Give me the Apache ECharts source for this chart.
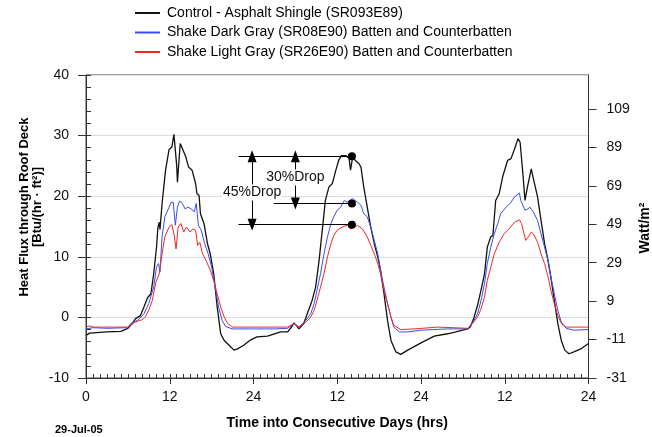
<!DOCTYPE html>
<html>
<head>
<meta charset="utf-8">
<script src="https://cdn.jsdelivr.net/npm/echarts@6/dist/echarts.min.js"></script>
<style>
html,body{margin:0;padding:0;background:#fff;}
#chart{width:652px;height:437px;}
</style>
</head>
<body>
<div id="chart"></div>
<script>
// ---- Data (hours into consecutive days, heat flux Btu/(hr·ft²)) ----
const seriesNames = [
  'Control - Asphalt Shingle (SR093E89)',
  'Shake Dark Gray (SR08E90) Batten and Counterbatten',
  'Shake Light Gray (SR26E90) Batten and Counterbatten'
];
const xTickLabels = ['0','12','24','12','24','12','24'];

const controlHours = [0,0.5,1.5,3,5,6,6.5,7.1,7.8,8.3,8.8,9.3,9.7,10.1,10.3,10.5,10.6,10.9,11.4,11.9,12.3,12.6,12.8,13.0,13.1,13.3,13.5,13.7,14.3,14.7,15.2,15.7,15.9,16.2,16.4,16.9,17.4,17.8,18.3,18.8,19.3,19.8,20.5,21.2,21.7,22.6,23.6,24.5,26,27.9,
  28.9,29.5,29.8,30.2,30.5,31.2,31.7,32.4,32.9,33.4,33.9,34.3,34.8,35.3,35.8,36.2,36.6,37.2,37.7,37.9,38.2,38.6,39.1,39.4,39.8,40.3,40.8,41.3,41.8,42.2,42.7,43.2,43.7,44.4,45.1,46.1,48,49.9,51.8,53,54.7,
  55.1,55.6,56.1,56.6,57.1,57.5,58,58.3,58.7,59.2,59.7,60.4,60.9,61.4,61.9,62.2,62.6,62.9,63.3,63.5,63.8,64.1,64.7,65.2,65.7,66.2,66.6,67.1,67.6,68.1,68.6,69.2,69.9,70.9,72];
const controlFlux = [-3.0,-2.6,-2.5,-2.4,-2.3,-1.8,-1.2,-0.2,0.3,1.7,3.2,3.9,7.2,11.5,14.8,15.7,14.5,18.8,24.3,27.7,28.1,30.2,30.0,25.0,22.3,22.6,28.7,28.8,26.5,24.8,24.3,22.1,20.4,20.1,17.1,15.5,12.2,10.5,7.2,1.7,-2.7,-3.8,-4.6,-5.4,-5.2,-4.6,-3.7,-3.2,-3.1,-2.4,
  -2.4,-1.5,-0.9,-1.4,-1.9,-1.0,0.6,2.8,5.0,9.4,14.9,19.3,21.5,22.1,24.3,25.9,26.7,26.7,26.2,24.3,26.4,25.9,25.4,24.8,21.5,18.2,14.9,12.2,10.0,7.8,3.9,-0.5,-3.8,-5.7,-6.1,-5.4,-4.2,-3.1,-2.7,-2.4,-1.9,
  -1.5,0.0,2.0,4.5,7.2,11.6,13.3,13.5,19.3,20.4,23.2,25.9,26.2,27.8,29.5,28.9,23.7,19.3,21.8,21.5,24.5,22.9,19.9,16.0,12.2,9.4,6.7,2.8,-1.0,-3.8,-5.4,-6.0,-5.7,-5.2,-4.3];

const darkHours = [0,1,3,6,6.4,7.5,8.3,9.0,9.7,10.1,10.4,10.6,10.9,11.3,11.9,12.2,12.5,12.8,13.1,13.4,13.8,14.2,14.6,15.1,15.5,15.8,16.1,16.5,17.0,17.5,18.0,18.5,19.0,19.5,20.0,21,24,27,
  28.9,29.8,30.5,31.5,32.2,32.7,33.1,33.6,34.1,34.6,35.1,35.5,36.0,36.5,37.0,37.4,38.2,38.9,39.4,39.8,40.3,40.8,41.3,41.8,42.2,42.7,43.2,43.7,44.1,44.9,46.1,48,51.8,54.7,
  55.1,55.6,56.1,56.6,57.1,57.5,58.0,58.5,59.0,59.4,60.2,60.9,61.4,62.1,62.3,62.9,63.3,63.6,64.1,64.7,65.2,65.7,66.2,66.6,67.1,67.6,68.1,68.8,69.9,72];
const darkFlux = [-1.9,-1.7,-1.8,-1.7,-1.0,-0.4,0.6,2.3,5.0,8.3,8.9,7.5,13.3,16.6,18.2,19.0,19.0,15.2,18.2,19.2,18.8,17.9,18.2,17.9,17.4,18.8,15.2,14.4,12.2,10.5,8.3,5.0,1.7,-0.5,-1.5,-1.9,-1.9,-1.9,
  -1.8,-1.0,-1.6,-0.5,0.6,2.3,4.5,7.2,10.5,13.3,15.5,16.6,17.7,18.2,19.3,19.0,19.6,19.0,18.5,17.1,16.6,14.9,12.7,10.5,7.8,5.0,2.3,0.05,-1.6,-2.4,-2.4,-2.1,-1.9,-1.9,
  -1.3,-0.5,0.6,2.8,5.6,8.9,11.6,13.8,15.5,17.1,18.2,19.0,19.9,20.5,19.3,17.7,17.9,18.2,17.4,16.0,13.8,11.6,9.4,6.7,3.9,1.2,-0.8,-1.8,-2.1,-2.0];

const lightHours = [0,0.5,1,6,7,8,8.5,9,9.5,10.0,10.5,10.9,11.3,11.9,12.3,12.6,12.9,13.2,13.6,14.0,14.4,14.9,15.3,15.7,16.0,16.3,16.7,17.2,17.8,18.3,18.8,19.3,19.8,20.3,21,24,27,
  28.9,29.8,30.5,31.5,32.2,32.7,33.1,33.6,34.1,34.6,35.1,35.5,36.0,36.7,37.4,37.9,38.9,39.6,40.3,40.8,41.3,41.8,42.2,42.7,43.2,43.7,44.1,45.1,47,50.4,54.7,
  55.4,56.1,56.6,57.1,57.5,58.0,58.5,59.2,59.9,60.6,61.4,62.1,62.4,63.0,63.4,63.8,64.1,64.7,65.2,65.7,66.2,66.6,67.1,67.6,68.1,68.8,72];
const lightFlux = [-1.6,-1.4,-1.6,-1.6,-0.8,-0.4,0.05,1.2,2.8,5.8,7.2,10.5,13.3,14.9,15.3,13.8,11.3,14.9,15.5,14.1,14.9,14.1,14.6,14.4,11.9,12.4,10.5,9.4,7.8,6.1,3.9,1.7,0.05,-1.0,-1.6,-1.6,-1.6,
  -1.6,-1.0,-1.6,-0.8,0.05,1.2,2.8,5.0,7.2,10.0,12.2,13.5,14.4,14.9,15.2,14.6,15.2,14.6,13.3,11.9,10.5,8.9,7.2,4.5,2.3,0.05,-1.3,-2.0,-1.9,-1.6,-1.8,
  -1.0,0.05,1.4,3.4,6.1,8.3,10.5,12.4,13.8,14.6,15.7,16.1,15.5,12.7,13.3,14.1,13.8,12.4,10.5,8.9,6.7,4.5,2.3,0.3,-1.0,-1.6,-1.6];

// Annotation values (peak levels on day 2)
const dropPeakHour = 38.1;
const dropLevels = [26.6, 18.8, 15.3];
const dropLabels = ['45%Drop', '30%Drop'];

// ---- Chart ----
const FONT = "'Liberation Sans', Arial, Helvetica, sans-serif";
const zip = (xs, ys) => xs.map((x, i) => [x, ys[i]]);
const BTU_TO_W = 3.1546;

const chart = echarts.init(document.getElementById('chart'), null, {renderer: 'canvas'});

const colors = ['#111111', '#3a4cf0', '#f02828'];

const annotLines = {
  silent: true,
  symbol: ['none', 'none'],
  lineStyle: {color: '#000', width: 1, type: 'solid'},
  label: {show: false},
  data: [
    [{coord: [21.85, dropLevels[0]]}, {coord: [dropPeakHour, dropLevels[0]]}],
    [{coord: [26.9, dropLevels[1]]}, {coord: [dropPeakHour, dropLevels[1]]}],
    [{coord: [21.85, dropLevels[2]]}, {coord: [dropPeakHour, dropLevels[2]]}],
    [{coord: [23.8, dropLevels[0]], symbol: 'triangle'}, {coord: [23.8, dropLevels[2]], symbol: 'triangle'}],
    [{coord: [30.0, dropLevels[0]], symbol: 'triangle'}, {coord: [30.0, dropLevels[1]], symbol: 'triangle'}]
  ],
  symbolSize: [9, 12]
};

const option = {
  animation: false,
  backgroundColor: '#fff',
  textStyle: {fontFamily: FONT},
  color: colors,
  grid: {left: 86, right: 63.5, top: 75, bottom: 59, show: true, borderColor: '#444', borderWidth: 1},
  legend: {
    orient: 'vertical', left: 134, top: 6, padding: 0, itemWidth: 25, itemHeight: 14, itemGap: 5.5,
    data: seriesNames,
    itemStyle: {opacity: 0},
    textStyle: {fontSize: 14, color: '#000', fontFamily: FONT, padding: [0, 0, 0, 2]},
    selectedMode: false
  },
  xAxis: [
    {
      type: 'value', min: 0, max: 72, interval: 12, position: 'bottom',
      axisLine: {show: true, onZero: false, lineStyle: {color: '#333', width: 1}},
      axisTick: {show: true, inside: false, length: 6, lineStyle: {color: '#333'}},
      axisLabel: {fontSize: 14, color: '#111', margin: 12, fontFamily: FONT,
        formatter: v => xTickLabels[Math.round(v / 12)]},
      splitLine: {show: false},
      name: 'Time into Consecutive Days (hrs)', nameLocation: 'middle', nameGap: 38,
      nameTextStyle: {fontSize: 14, fontWeight: 'bold', color: '#000', fontFamily: FONT}
    },
    {
      type: 'value', min: 0, max: 72, interval: 1, position: 'bottom',
      axisLine: {show: false, onZero: false},
      axisTick: {show: true, inside: true, length: 4, lineStyle: {color: '#333'}},
      axisLabel: {show: false}, splitLine: {show: false}
    }
  ],
  yAxis: [
    {
      type: 'value', min: -10, max: 40, interval: 10, position: 'left',
      axisLine: {show: true, onZero: false, lineStyle: {color: '#333', width: 1}},
      axisTick: {show: true, inside: false, length: 8, lineStyle: {color: '#333'}},
      axisLabel: {fontSize: 14, color: '#111', margin: 17, fontFamily: FONT},
      splitLine: {show: true, lineStyle: {color: '#d5dee4', width: 1}}
    },
    {
      type: 'value', min: -10 * BTU_TO_W + 0.546, max: 40 * BTU_TO_W + 0.546, interval: 20, position: 'right',
      axisLine: {show: true, onZero: false, lineStyle: {color: '#333', width: 1}},
      axisTick: {show: true, inside: false, length: 8, lineStyle: {color: '#333'}},
      axisLabel: {fontSize: 14, color: '#111', margin: 18, fontFamily: FONT, showMaxLabel: false,
        formatter: v => String(Math.round(v))},
      splitLine: {show: false}
    },
    {
      type: 'value', min: -10, max: 40, interval: 2, position: 'left',
      axisLine: {show: false, onZero: false},
      axisTick: {show: true, inside: true, length: 5, lineStyle: {color: '#333'}},
      axisLabel: {show: false}, splitLine: {show: false}
    }
  ],
  graphic: [
    {type: 'text', x: 31, y: 207, rotation: Math.PI / 2, z: 10,
      style: {text: 'Heat Flux through Roof Deck\n[Btu/(hr · ft²)]', font: 'bold 13px ' + FONT,
        fill: '#000', textAlign: 'center', textVerticalAlign: 'middle', lineHeight: 13}},
    {type: 'text', x: 645, y: 228, rotation: Math.PI / 2, z: 10,
      style: {text: 'Watt/m²', font: 'bold 14px ' + FONT, fill: '#000',
        textAlign: 'center', textVerticalAlign: 'middle'}},
    {type: 'text', x: 55, y: 430, z: 10,
      style: {text: '29-Jul-05', font: 'bold 11px ' + FONT, fill: '#000',
        textAlign: 'left', textVerticalAlign: 'middle'}}
  ],
  series: [
    {name: seriesNames[0], type: 'line', symbol: 'none', data: zip(controlHours, controlFlux),
      lineStyle: {color: colors[0], width: 1.3}, z: 2},
    {name: seriesNames[1], type: 'line', symbol: 'none', data: zip(darkHours, darkFlux),
      lineStyle: {color: colors[1], width: 1}, z: 3},
    {name: seriesNames[2], type: 'line', symbol: 'none', data: zip(lightHours, lightFlux),
      lineStyle: {color: colors[2], width: 1}, z: 4},
    {name: 'annotLines', type: 'line', data: [], z: 5, markLine: annotLines},
    {name: 'annotText', type: 'line', data: [], z: 6,
      markPoint: {
        silent: true,
        data: [
          {name: dropLabels[0], coord: [23.8, 20.6], symbol: 'rect', symbolSize: 1,
            itemStyle: {color: 'rgba(0,0,0,0)'},
            label: {show: true, position: 'inside', formatter: dropLabels[0], fontSize: 14, color: '#111',
              backgroundColor: '#fff', padding: [1, 1], fontFamily: FONT}},
          {name: dropLabels[1], coord: [30.0, 23.1], symbol: 'rect', symbolSize: 1,
            itemStyle: {color: 'rgba(0,0,0,0)'},
            label: {show: true, position: 'inside', formatter: dropLabels[1], fontSize: 14, color: '#111',
              backgroundColor: '#fff', padding: [1, 1], fontFamily: FONT}},
          {coord: [dropPeakHour, dropLevels[0]], symbol: 'circle', symbolSize: 8, itemStyle: {color: '#000'}, label: {show: false}},
          {coord: [dropPeakHour, dropLevels[1]], symbol: 'circle', symbolSize: 8, itemStyle: {color: '#000'}, label: {show: false}},
          {coord: [dropPeakHour, dropLevels[2]], symbol: 'circle', symbolSize: 8, itemStyle: {color: '#000'}, label: {show: false}}
        ]
      }}
  ]
};
chart.setOption(option);
</script>
</body>
</html>
